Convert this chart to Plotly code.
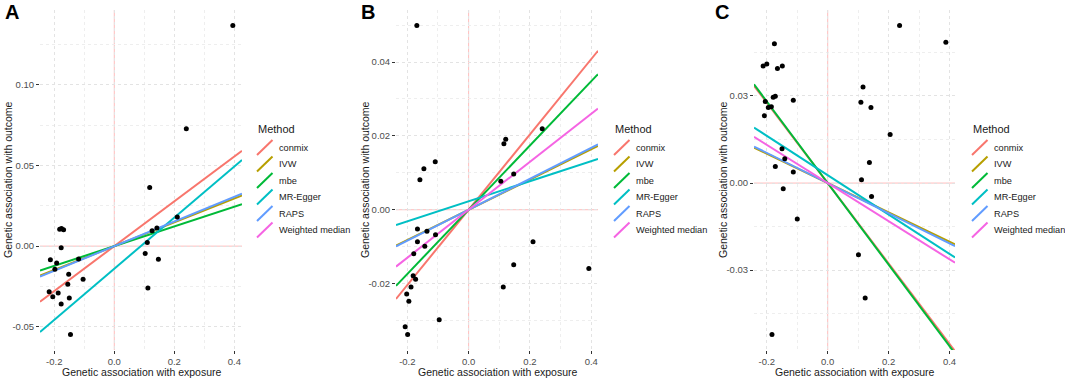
import plotly.graph_objects as go

methods = ["conmix", "IVW", "mbe", "MR-Egger", "RAPS", "Weighted median"]
colors = ["#F8766D", "#B79F00", "#00BA38", "#00BFC4", "#619CFF", "#F564E3"]

# Panel A
a_x = [0.395, 0.24, 0.118, -0.182, -0.176, -0.169, -0.177, -0.213, -0.192, -0.198,
       -0.119, -0.152, -0.104, -0.155, -0.217, -0.205, -0.187, -0.15, -0.177, -0.146,
       0.103, 0.11, 0.126, 0.142, 0.147, 0.112, 0.21]
a_y = [0.1368, 0.0728, 0.0364, 0.0105, 0.0109, 0.0101, -0.001, -0.0085, -0.0104, -0.0143,
       -0.0079, -0.0174, -0.0205, -0.0236, -0.0282, -0.0313, -0.029, -0.0321, -0.0358, -0.0548,
       -0.0046, 0.0023, 0.0095, 0.0112, -0.0081, -0.0259, 0.018]
a_slope = [0.139, 0.074, 0.061, 0.1585, 0.0765, None]
a_icpt = [0.0, 0.0, 0.0, -0.014, 0.0, 0.0]

# Panel B
b_x = [-0.169, -0.146, -0.109, -0.159, 0.121, 0.115, 0.24, 0.147, 0.105,
       -0.167, -0.136, -0.108, -0.167, -0.143, -0.179, -0.181, -0.173, -0.188, -0.202,
       -0.195, -0.207, -0.199, -0.096, 0.113, 0.147, 0.21, 0.392]
b_y = [0.0499, 0.0111, 0.013, 0.0081, 0.0191, 0.0179, 0.0219, 0.0097, 0.0077,
       -0.0052, -0.0058, -0.0068, -0.0087, -0.0099, -0.0119, -0.0179, -0.0188, -0.0209, -0.0228,
       -0.0248, -0.0317, -0.0338, -0.0298, -0.0209, -0.0149, -0.0087, -0.0159]
b_slope = [0.102, 0.041, 0.087, 0.0271, 0.042, 0.065]
b_icpt = [0.0, 0.0, 0.0, 0.0023, 0.0, 0.0]

# Panel C
c_x = [0.236, -0.175, -0.212, -0.2, -0.165, -0.149, -0.205, -0.179, -0.172, -0.195,
       -0.185, -0.208, -0.113, -0.15, -0.141, -0.172, -0.113, -0.146, 0.116, 0.109,
       0.142, 0.205, 0.137, 0.111, 0.144, -0.1, 0.101, 0.123, -0.183, 0.388]
c_y = [0.0543, 0.048, 0.0403, 0.041, 0.0395, 0.0403, 0.0281, 0.0296, 0.0299, 0.026,
       0.0263, 0.0232, 0.0285, 0.0118, 0.0084, 0.0057, 0.0038, -0.002, 0.0331, 0.0278,
       0.026, 0.0167, 0.0071, 0.0011, -0.0046, -0.0124, -0.0247, -0.0396, -0.0522, 0.0485]
c_slope = [-0.1385, -0.0505, -0.1405, -0.0678, -0.052, -0.0657]
c_icpt = [0.0, 0.0, 0.0, 0.0027, 0.0, 0.0]

panels = [
    ("A", a_x, a_y, a_slope, a_icpt, [-0.05, 0.0, 0.05, 0.10], [-0.075, -0.025, 0.025, 0.075, 0.125]),
    ("B", b_x, b_y, b_slope, b_icpt, [-0.02, 0.0, 0.02, 0.04], [-0.03, -0.01, 0.01, 0.03, 0.05]),
    ("C", c_x, c_y, c_slope, c_icpt, [-0.03, 0.0, 0.03], [-0.045, -0.015, 0.015, 0.045]),
]
x_ticks = [-0.2, 0.0, 0.2, 0.4]
x_minor = [-0.1, 0.1, 0.3]

W, H = 1065, 381
xdomains = [(40, 242), (396, 598), (754, 955)]
ytop, ybot = 10, 350
legend_x = [257, 614, 972]
letter_x = [3, 359, 713]
ytitle_x = [8, 365, 723]
legend_title_y = 129
legend_item_y0 = 147.5
legend_item_dy = 16.5

FONT = "Liberation Sans, Arial, sans-serif"
TXT = "#1a1a1a"
REF = "#ffbcbc"

fig = go.Figure()
layout = dict(
    width=W, height=H, margin=dict(l=0, r=0, t=0, b=0),
    paper_bgcolor="white", plot_bgcolor="white",
    font=dict(family=FONT, color=TXT),
    showlegend=False,
    annotations=[], shapes=[],
)

def rng(v):
    lo, hi = min(v), max(v)
    s = hi - lo
    return [lo - 0.05 * s, hi + 0.05 * s]

def px(x):
    return x / W

def py(y):
    return 1 - y / H

for i, (lab, xs, ys, slopes, icpts, yticks, yminor) in enumerate(panels):
    sfx = "" if i == 0 else str(i + 1)
    xr = rng(xs)
    yr = rng(ys)
    for m, col, s, b in zip(methods, colors, slopes, icpts):
        if s is None:
            continue
        fig.add_trace(go.Scatter(
            x=[xr[0], xr[1]], y=[b + s * xr[0], b + s * xr[1]], mode="lines", name=m,
            line=dict(color=col, width=2),
            xaxis="x" + sfx, yaxis="y" + sfx, hoverinfo="skip"))
    fig.add_trace(go.Scatter(
        x=xs, y=ys, mode="markers", marker=dict(color="black", size=5),
        xaxis="x" + sfx, yaxis="y" + sfx))

    # reference lines at zero
    layout["shapes"].append(dict(type="line", xref="x" + sfx, yref="y" + sfx + " domain",
                                 x0=0, x1=0, y0=0, y1=1, layer="below",
                                 line=dict(color=REF, width=1)))
    layout["shapes"].append(dict(type="line", xref="x" + sfx + " domain", yref="y" + sfx,
                                 x0=0, x1=1, y0=0, y1=0, layer="below",
                                 line=dict(color=REF, width=1)))

    x0, x1 = xdomains[i]
    layout["xaxis" + sfx] = dict(
        domain=[px(x0), px(x1)], range=xr, anchor="y" + sfx,
        tickvals=x_ticks, ticktext=[f"{v:.1f}" for v in x_ticks],
        ticks="outside", ticklen=3, tickcolor="#333333", tickwidth=1,
        tickfont=dict(size=9.5, color="#4d4d4d", family=FONT),
        showgrid=True, gridcolor="#e3e3e3", griddash="dot", gridwidth=1,
        minor=dict(tickvals=x_minor, showgrid=True, gridcolor="#eeeeee",
                   griddash="dot", gridwidth=1, ticks=""),
        zeroline=False, showline=False, automargin=False,
    )
    layout["yaxis" + sfx] = dict(
        domain=[py(ybot), py(ytop)], range=yr, anchor="x" + sfx,
        tickvals=yticks, ticktext=[f"{v:.2f}" for v in yticks],
        ticks="outside", ticklen=3, tickcolor="#333333", tickwidth=1,
        tickfont=dict(size=9.5, color="#4d4d4d", family=FONT),
        showgrid=True, gridcolor="#e3e3e3", griddash="dot", gridwidth=1,
        minor=dict(tickvals=yminor, showgrid=True, gridcolor="#eeeeee",
                   griddash="dot", gridwidth=1, ticks=""),
        zeroline=False, showline=False, automargin=False,
    )
    ann = layout["annotations"]
    # panel letter
    ann.append(dict(
        text="<b>" + lab + "</b>", x=px(letter_x[i]), y=py(12), xref="paper", yref="paper",
        xanchor="left", yanchor="middle", showarrow=False,
        font=dict(size=20, color="black", family=FONT)))
    # axis titles
    ann.append(dict(
        text="Genetic association with exposure", x=px((x0 + x1) / 2), y=py(372),
        xref="paper", yref="paper", xanchor="center", yanchor="middle", showarrow=False,
        font=dict(size=10.5, color=TXT, family=FONT)))
    ann.append(dict(
        text="Genetic association with outcome", x=px(ytitle_x[i]), y=py((ytop + ybot) / 2),
        xref="paper", yref="paper", xanchor="center", yanchor="middle", showarrow=False,
        textangle=-90, font=dict(size=10.5, color=TXT, family=FONT)))
    # legend
    lx = legend_x[i]
    ann.append(dict(
        text="Method", x=px(lx - 1), y=py(legend_title_y), xref="paper", yref="paper",
        xanchor="left", yanchor="middle", showarrow=False,
        font=dict(size=11, color=TXT, family=FONT)))
    for k, (m, col) in enumerate(zip(methods, colors)):
        yc = legend_item_y0 + k * legend_item_dy
        layout["shapes"].append(dict(
            type="line", xref="paper", yref="paper",
            x0=px(lx), y0=py(yc + 7.5), x1=px(lx + 15.5), y1=py(yc - 7.5),
            line=dict(color=col, width=2)))
        ann.append(dict(
            text=m, x=px(lx + 20), y=py(yc), xref="paper", yref="paper",
            xanchor="left", yanchor="middle", showarrow=False,
            font=dict(size=9.2, color=TXT, family=FONT)))

fig.update_layout(**layout)
fig.write_html("out.html",
               config={"displayModeBar": False},
               post_script="document.body.style.margin='0';document.body.style.overflow='hidden';")
